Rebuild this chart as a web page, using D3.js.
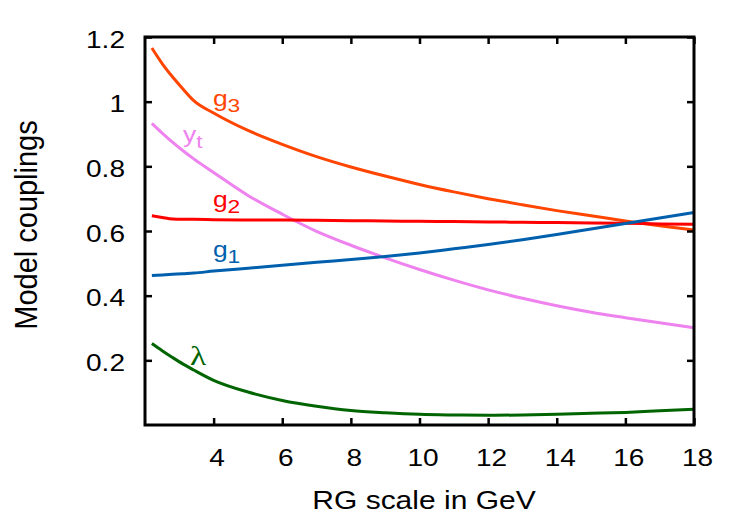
<!DOCTYPE html>
<html>
<head>
<meta charset="utf-8">
<script src="https://cdn.jsdelivr.net/npm/d3@7"></script>
<style>
  body { margin: 0; background: #fff; }
  svg text { font-family: "Liberation Sans", Arial, sans-serif; }
</style>
</head>
<body>
<div id="chart"></div>
<script>
// RG scale in GeV
var scale = [2.2, 2.5, 2.8, 3.1, 3.42, 4, 5, 6, 7, 8, 9, 10, 11, 12, 13, 14, 15, 16, 17, 18]

// couplings
var g3 = [1.166, 1.118, 1.077, 1.040, 1.003, 0.965, 0.911, 0.868, 0.830, 0.798, 0.770, 0.744, 0.721, 0.700, 0.681, 0.663, 0.647, 0.631, 0.616, 0.603]
var g2 = [0.647, 0.642, 0.637, 0.636, 0.636, 0.635, 0.634, 0.634, 0.633, 0.632, 0.631, 0.630, 0.629, 0.628, 0.627, 0.626, 0.625, 0.624, 0.622, 0.621]
var g1 = [0.462, 0.464, 0.466, 0.468, 0.470, 0.476, 0.485, 0.494, 0.503, 0.512, 0.521, 0.532, 0.545, 0.558, 0.573, 0.589, 0.606, 0.623, 0.640, 0.657]
var yt = [0.933, 0.903, 0.875, 0.849, 0.823, 0.781, 0.710, 0.652, 0.599, 0.556, 0.517, 0.481, 0.448, 0.418, 0.392, 0.369, 0.349, 0.332, 0.316, 0.301]
var lambda = [0.252, 0.230, 0.209, 0.189, 0.170, 0.138, 0.102, 0.076, 0.058, 0.045, 0.038, 0.033, 0.031, 0.030, 0.031, 0.033, 0.036, 0.039, 0.044, 0.049]

var xTicks = [4, 6, 8, 10, 12, 14, 16, 18]
var yTicks = [0.2, 0.4, 0.6, 0.8, 1, 1.2]

var series = [
  {name: 'g', sub: '3', values: g3, color: '#ff4500', lx: 3.98, ly: 0.987},
  {name: 'y', sub: 't', values: yt, color: '#ee82ee', lx: 3.11, ly: 0.874},
  {name: 'g', sub: '2', values: g2, color: '#ff0000', lx: 3.98, ly: 0.673},
  {name: 'g', sub: '1', values: g1, color: '#0060ad', lx: 3.98, ly: 0.520},
  {name: 'λ', sub: '', values: lambda, color: '#006400', lx: 3.31, ly: 0.186}
]

var width = 750
var height = 525
var mLeft = 145, mRight = 694, mTop = 37, mBottom = 425
var stretch = 1.2   // the reference text is a bit wider than it is tall

var x = d3.scaleLinear().domain([2, 18]).range([mLeft, mRight])
var y = d3.scaleLinear().domain([0, 1.2]).range([mBottom, mTop])

var svg = d3.select('#chart').append('svg').attr('width', width).attr('height', height)

var line = d3.line().x(d => x(d[0])).y(d => y(d[1])).curve(d3.curveMonotoneX)

svg.append('g').selectAll('path')
  .data(series).join('path')
  .attr('d', d => line(scale.map((s, i) => [s, d.values[i]])))
  .attr('fill', 'none')
  .attr('stroke', d => d.color)
  .attr('stroke-width', 3)

// curve labels
var lab = svg.append('g').selectAll('g')
  .data(series).join('g')
  .attr('transform', d => 'translate(' + x(d.lx) + ',' + y(d.ly) + ') scale(' + stretch + ',1)')
  .append('text')
  .attr('fill', d => d.color)
  .style('font-size', '22px')
lab.append('tspan').text(d => d.name)
  .style('font-family', d => d.sub == '' ? '"Liberation Serif", serif' : null)
  .style('font-size', d => d.sub == '' ? '28px' : null)
lab.append('tspan').text(d => d.sub).attr('dy', 6).style('font-size', '19px')

// axes with inward ticks on all sides
var xAxis = svg.append('g').attr('transform', 'translate(0,' + mBottom + ')')
  .call(d3.axisBottom(x).tickValues(xTicks).tickSize(-7).tickFormat(d3.format('d')))
xAxis.selectAll('text').attr('y', 0).attr('dy', null)
  .attr('transform', 'translate(3,41) scale(1.22,1)')

svg.append('g').attr('transform', 'translate(0,' + mTop + ')')
  .call(d3.axisTop(x).tickValues(xTicks).tickSize(-7).tickFormat(''))

var yAxis = svg.append('g').attr('transform', 'translate(' + mLeft + ',0)')
  .call(d3.axisLeft(y).tickValues(yTicks).tickSize(-7).tickFormat(d => d))
yAxis.selectAll('text').attr('x', 0).attr('dy', null)
  .attr('transform', 'translate(-20,10) scale(1.22,1)')

svg.append('g').attr('transform', 'translate(' + mRight + ',0)')
  .call(d3.axisRight(y).tickValues(yTicks).tickSize(-7).tickFormat(''))

svg.selectAll('.domain').remove()
svg.selectAll('.tick line').attr('stroke', '#000').attr('stroke-width', 2.5)
svg.selectAll('.tick text')
  .style('font-size', '23px')
  .style('font-family', '"Liberation Sans", Arial, sans-serif')
  .attr('fill', '#000')

svg.append('rect')
  .attr('x', mLeft).attr('y', mTop)
  .attr('width', mRight - mLeft).attr('height', mBottom - mTop)
  .attr('fill', 'none').attr('stroke', '#000').attr('stroke-width', 3)

svg.append('text')
  .attr('transform', 'translate(424,509) scale(' + stretch + ',1)')
  .attr('text-anchor', 'middle')
  .style('font-size', '25px')
  .text('RG scale in GeV')

svg.append('text')
  .attr('transform', 'translate(37,225) scale(1.1,1) rotate(-90)')
  .attr('text-anchor', 'middle')
  .style('font-size', '29px')
  .text('Model couplings')
</script>
</body>
</html>
